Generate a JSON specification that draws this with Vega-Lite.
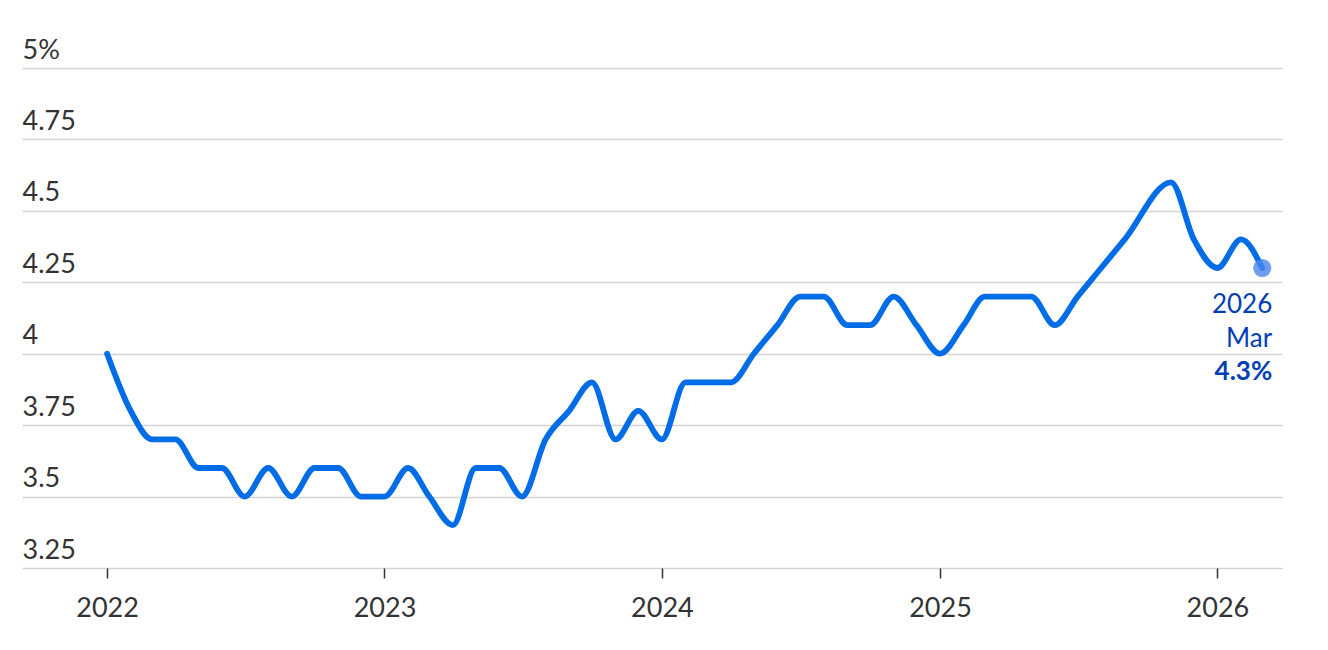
{
  "$schema": "https://vega.github.io/schema/vega-lite/v6.json",
  "width": 1260,
  "height": 500,
  "autosize": {"type": "none"},
  "padding": {"left": 22, "top": 68, "right": 46, "bottom": 82},
  "background": "white",
  "config": {"view": {"stroke": null}, "font": "Lato"},
  "datasets": {
    "series": [
      {"date": "2022-01-01", "rate": 4.0},
      {"date": "2022-02-01", "rate": 3.8},
      {"date": "2022-03-01", "rate": 3.7},
      {"date": "2022-04-01", "rate": 3.7},
      {"date": "2022-05-01", "rate": 3.6},
      {"date": "2022-06-01", "rate": 3.6},
      {"date": "2022-07-01", "rate": 3.5},
      {"date": "2022-08-01", "rate": 3.6},
      {"date": "2022-09-01", "rate": 3.5},
      {"date": "2022-10-01", "rate": 3.6},
      {"date": "2022-11-01", "rate": 3.6},
      {"date": "2022-12-01", "rate": 3.5},
      {"date": "2023-01-01", "rate": 3.5},
      {"date": "2023-02-01", "rate": 3.6},
      {"date": "2023-03-01", "rate": 3.5},
      {"date": "2023-04-01", "rate": 3.4},
      {"date": "2023-05-01", "rate": 3.6},
      {"date": "2023-06-01", "rate": 3.6},
      {"date": "2023-07-01", "rate": 3.5},
      {"date": "2023-08-01", "rate": 3.7},
      {"date": "2023-09-01", "rate": 3.8},
      {"date": "2023-10-01", "rate": 3.9},
      {"date": "2023-11-01", "rate": 3.7},
      {"date": "2023-12-01", "rate": 3.8},
      {"date": "2024-01-01", "rate": 3.7},
      {"date": "2024-02-01", "rate": 3.9},
      {"date": "2024-03-01", "rate": 3.9},
      {"date": "2024-04-01", "rate": 3.9},
      {"date": "2024-05-01", "rate": 4.0},
      {"date": "2024-06-01", "rate": 4.1},
      {"date": "2024-07-01", "rate": 4.2},
      {"date": "2024-08-01", "rate": 4.2},
      {"date": "2024-09-01", "rate": 4.1},
      {"date": "2024-10-01", "rate": 4.1},
      {"date": "2024-11-01", "rate": 4.2},
      {"date": "2024-12-01", "rate": 4.1},
      {"date": "2025-01-01", "rate": 4.0},
      {"date": "2025-02-01", "rate": 4.1},
      {"date": "2025-03-01", "rate": 4.2},
      {"date": "2025-04-01", "rate": 4.2},
      {"date": "2025-05-01", "rate": 4.2},
      {"date": "2025-06-01", "rate": 4.1},
      {"date": "2025-07-01", "rate": 4.2},
      {"date": "2025-08-01", "rate": 4.3},
      {"date": "2025-09-01", "rate": 4.4},
      {"date": "2025-11-01", "rate": 4.6},
      {"date": "2025-12-01", "rate": 4.4},
      {"date": "2026-01-01", "rate": 4.3},
      {"date": "2026-02-01", "rate": 4.4},
      {"date": "2026-03-01", "rate": 4.3}
    ],
    "last": [
      {"date": "2026-03-01", "rate": 4.3, "year": "2026", "month": "Mar", "label": "4.3%"}
    ]
  },
  "encoding": {
    "x": {
      "field": "date",
      "type": "temporal",
      "scale": {
        "type": "utc",
        "domain": [
          {"year": 2021, "month": 9, "date": 11, "utc": true},
          {"year": 2026, "month": 3, "date": 27, "utc": true}
        ]
      },
      "axis": {
        "title": null,
        "values": [
          {"year": 2022, "month": 1, "date": 1, "utc": true},
          {"year": 2023, "month": 1, "date": 1, "utc": true},
          {"year": 2024, "month": 1, "date": 1, "utc": true},
          {"year": 2025, "month": 1, "date": 1, "utc": true},
          {"year": 2026, "month": 1, "date": 1, "utc": true}
        ],
        "format": "%Y",
        "grid": false,
        "domain": false,
        "tickSize": 10,
        "tickWidth": 1.5,
        "tickColor": "#333333",
        "labelFontSize": 27,
        "labelColor": "#333333",
        "labelPadding": 17,
        "labelFlush": false
      }
    },
    "y": {
      "field": "rate",
      "type": "quantitative",
      "scale": {"domain": [3.25, 5], "nice": false, "zero": false},
      "axis": {
        "title": null,
        "values": [3.25, 3.5, 3.75, 4, 4.25, 4.5, 4.75, 5],
        "labelExpr": "datum.value == 5 ? '5%' : toString(datum.value)",
        "domain": false,
        "ticks": false,
        "tickSize": 0,
        "grid": true,
        "gridColor": "#d4d4d4",
        "gridWidth": 1.5,
        "labelAlign": "left",
        "labelBaseline": "alphabetic",
        "labelPadding": 0,
        "labelOffset": -10,
        "labelFontSize": 27,
        "labelColor": "#333333",
        "labelFlush": false
      }
    }
  },
  "layer": [
    {
      "data": {"name": "series"},
      "mark": {
        "type": "line",
        "interpolate": "monotone",
        "color": "#006ce6",
        "strokeWidth": 5.8,
        "strokeCap": "round",
        "strokeJoin": "round"
      }
    },
    {
      "data": {"name": "last"},
      "mark": {"type": "circle", "size": 330, "color": "#4a86e8", "opacity": 0.8}
    },
    {
      "data": {"name": "last"},
      "mark": {"type": "text", "align": "right", "baseline": "alphabetic", "dx": 10, "dy": 45, "fontSize": 26, "color": "#0040b5"},
      "encoding": {"text": {"field": "year"}}
    },
    {
      "data": {"name": "last"},
      "mark": {"type": "text", "align": "right", "baseline": "alphabetic", "dx": 10, "dy": 79, "fontSize": 26, "color": "#0040b5"},
      "encoding": {"text": {"field": "month"}}
    },
    {
      "data": {"name": "last"},
      "mark": {"type": "text", "align": "right", "baseline": "alphabetic", "dx": 10, "dy": 112, "fontSize": 26, "fontWeight": "bold", "color": "#0040b5"},
      "encoding": {"text": {"field": "label"}}
    }
  ]
}
